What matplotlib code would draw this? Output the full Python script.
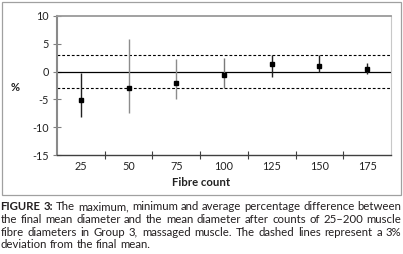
import numpy as np
import matplotlib
matplotlib.use('Agg')
from matplotlib import pyplot as plt
from matplotlib.patches import Rectangle

# data
counts = ['25', '50', '75', '100', '125', '150', '175']
avg_diff = [-5.1, -3.0, -2.05, -0.65, 1.45, 0.95, 0.55]
max_diff = [-0.25, 5.85, 2.35, 2.5, 3.05, 3.0, 1.55]
min_diff = [-8.2, -7.5, -5.0, -2.9, -0.95, -0.05, -0.5]
dev_limit = 3
bar_colours = ['#222222', '#8c8c8c', '#8c8c8c', '#7a7a7a', '#222222', '#222222', '#222222']

caption = [
    (['FIGURE', '3:'], ['The', 'maximum,', 'minimum', 'and', 'average', 'percentage', 'difference', 'between'], True),
    ([], 'the final mean diameter and the mean diameter after counts of 25\u2013200 muscle'.split(), True),
    ([], 'fibre diameters in Group 3, massaged muscle. The dashed lines represent a 3%'.split(), True),
    ([], 'deviation from the final mean.'.split(), False),
]

W, H = 403, 254
plt.rcParams['font.family'] = ['Lato', 'DejaVu Sans']
plt.rcParams['axes.unicode_minus'] = False
fig = plt.figure(figsize=(W / 100, H / 100), dpi=100)

#plot area in pixels
left, right, top, bottom = 57, 391, 16, 155
ax = fig.add_axes([left / W, (H - bottom) / H, (right - left) / W, (bottom - top) / H])

x = np.arange(len(counts))
ax.vlines(x, min_diff, max_diff, colors=bar_colours, linewidth=1.0, zorder=3)
ax.plot(x, avg_diff, 's', color='black', markersize=3.4, zorder=4)
ax.axhline(0, color='black', linewidth=0.9, zorder=2)
for lvl in (dev_limit, -dev_limit):
    ax.axhline(lvl, color='black', linewidth=0.8, linestyle=(0, (2.5, 1.8)), zorder=2)

ax.set_xlim(-0.5, len(counts) - 0.5)
ax.set_ylim(-15, 10)
ax.set_yticks(np.arange(-15, 11, 5))
ax.set_xticks(x[:-1] + 0.5)
ax.set_xticklabels([])
ax.set_xticks(x, minor=True)
ax.set_xticklabels(counts, minor=True)
ax.tick_params(axis='x', which='major', direction='inout', length=6, width=0.8, color='#404040')
ax.tick_params(axis='x', which='minor', length=0, pad=4, labelsize=7.8, labelcolor='#222222')
ax.tick_params(axis='y', direction='inout', length=6, width=0.8, color='#808080', pad=3,
               labelsize=7.8, labelcolor='#222222')

ax.spines['left'].set_color('#8a8a8a')
ax.spines['left'].set_linewidth(1.5)
ax.spines['bottom'].set_color('#404040')
ax.spines['bottom'].set_linewidth(1.0)
ax.spines['top'].set_color('#9a9a9a')
ax.spines['top'].set_linewidth(1.3)
ax.spines['right'].set_color('#c8c8c8')
ax.spines['right'].set_linewidth(0.8)

fig.text(15 / W, 1 - 87 / H, '%', fontsize=8, fontweight='bold', ha='center', va='center', color='#222222')
fig.text(201 / W, 1 - 182 / H, 'Fibre count', fontsize=8.2, fontweight='bold', ha='center', va='center',
         color='#222222')

# outer frame around chart
fig.patches.append(Rectangle((1.5 / W, 1 - 194.5 / H), 399 / W, 193 / H, transform=fig.transFigure,
                             fill=False, edgecolor='#a0a0a0', linewidth=0.9))

# caption, justified word by word
cap_size = 8.2
fig.canvas.draw()
r = fig.canvas.get_renderer()
x0, x1 = 0.5, 401.5
ys = [207, 219.5, 232, 244]
t2 = fig.text(0, 0, 'a a', fontsize=cap_size)
t1 = fig.text(0, 0, 'a', fontsize=cap_size)
space = t2.get_window_extent(r).width - 2 * t1.get_window_extent(r).width
t1.remove()
t2.remove()
for (bold, normal, justify), y in zip(caption, ys):
    texts = []
    for w in bold:
        texts.append(fig.text(0, 1 - y / H, w, fontsize=cap_size, fontweight='bold', va='center', color='#231f20'))
    for w in normal:
        texts.append(fig.text(0, 1 - y / H, w, fontsize=cap_size, va='center', color='#231f20'))
    widths = [t.get_window_extent(r).width for t in texts]
    gap = (x1 - x0 - sum(widths)) / (len(texts) - 1) if justify else space
    pos = x0
    for t, wd in zip(texts, widths):
        t.set_x(pos / W)
        pos += wd + gap

fig.savefig('out.png', dpi=100)
